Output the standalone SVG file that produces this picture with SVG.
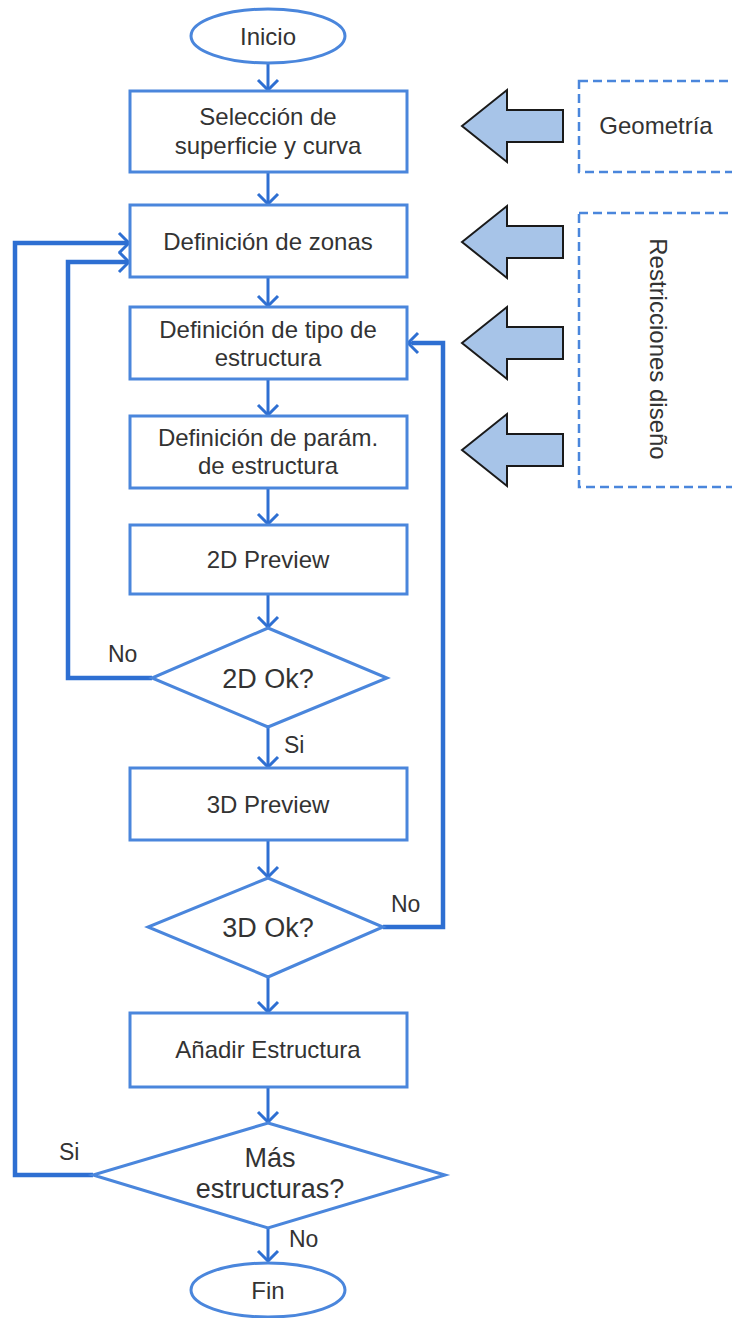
<svg xmlns="http://www.w3.org/2000/svg" width="732" height="1318" viewBox="0 0 732 1318">
<style>
.node{fill:#fff;stroke:#4a86dc;stroke-width:3}
.t{font-family:"Liberation Sans",Arial,sans-serif;font-size:24px;fill:#333;text-anchor:middle}
.td{font-family:"Liberation Sans",Arial,sans-serif;font-size:27px;fill:#333;text-anchor:middle}
.lbl{font-family:"Liberation Sans",Arial,sans-serif;font-size:23px;fill:#333}
.c{fill:none;stroke:#2e6fd2;stroke-width:3;marker-end:url(#ah)}
.cl{fill:none;stroke:#2e6fd2;stroke-width:4.5;stroke-linejoin:miter}
.dash{fill:none;stroke:#4a86dc;stroke-width:2.5;stroke-dasharray:9 5}
.blk{fill:#a7c4e8;stroke:#1a1a1a;stroke-width:2;stroke-linejoin:miter}
</style>
<defs>
<marker id="ah" viewBox="-12 -12 14 24" markerWidth="14" markerHeight="24" refX="0" refY="0" orient="auto" markerUnits="userSpaceOnUse">
<path d="M-10,-10 L0,0 L-10,10" fill="none" stroke="#2e6fd2" stroke-width="3"/>
</marker>
<path id="barrow" d="M0,0 L45,-36 L45,-16 L101,-16 L101,16 L45,16 L45,36 Z"/>
</defs>
<rect width="732" height="1318" fill="#fff"/>

<g id="connectors">
<line class="c" x1="268" y1="63" x2="268" y2="90"/>
<line class="c" x1="268" y1="172" x2="268" y2="204"/>
<line class="c" x1="268" y1="277" x2="268" y2="306"/>
<line class="c" x1="268" y1="379" x2="268" y2="415"/>
<line class="c" x1="268" y1="488" x2="268" y2="524"/>
<line class="c" x1="268" y1="594" x2="268" y2="627"/>
<line class="c" x1="268" y1="727" x2="268" y2="767"/>
<line class="c" x1="268" y1="840" x2="268" y2="877"/>
<line class="c" x1="268" y1="977" x2="268" y2="1012"/>
<line class="c" x1="268" y1="1087" x2="268" y2="1122"/>
<line class="c" x1="268" y1="1228" x2="268" y2="1261"/>
<polyline class="cl" points="152,678 68,678 68,262 126,262"/>
<line class="c" x1="120" y1="262" x2="129" y2="262"/>
<polyline class="cl" points="93,1175 15,1175 15,243 126,243"/>
<line class="c" x1="120" y1="243" x2="129" y2="243"/>
<polyline class="cl" points="383,927 443,927 443,343 412,343"/>
<line class="c" x1="418" y1="343" x2="408" y2="343"/>
<text class="lbl" x="108" y="662">No</text>
<text class="lbl" x="284" y="753">Si</text>
<text class="lbl" x="391" y="912">No</text>
<text class="lbl" x="59" y="1160">Si</text>
<text class="lbl" x="289" y="1247">No</text>
</g>

<g id="inicio"><ellipse class="node" cx="268" cy="36" rx="77" ry="27"/><text class="t" x="268" y="45">Inicio</text></g>
<g id="seleccion"><rect class="node" x="130" y="91" width="277" height="81"/><text class="t" x="268" y="125">Selección de</text><text class="t" x="268" y="154">superficie y curva</text></g>
<g id="zonas"><rect class="node" x="130" y="205" width="277" height="72"/><text class="t" x="268" y="250">Definición de zonas</text></g>
<g id="tipo"><rect class="node" x="130" y="307" width="277" height="72"/><text class="t" x="268" y="338">Definición de tipo de</text><text class="t" x="268" y="366">estructura</text></g>
<g id="param"><rect class="node" x="130" y="416" width="277" height="72"/><text class="t" x="268" y="446">Definición de parám.</text><text class="t" x="268" y="474">de estructura</text></g>
<g id="preview2d"><rect class="node" x="130" y="525" width="277" height="69"/><text class="t" x="268" y="568">2D Preview</text></g>
<g id="ok2d"><polygon class="node" points="268,628 387,678 268,727 152,678"/><text class="td" x="268" y="688">2D Ok?</text></g>
<g id="preview3d"><rect class="node" x="130" y="768" width="277" height="72"/><text class="t" x="268" y="813">3D Preview</text></g>
<g id="ok3d"><polygon class="node" points="268,878 383,927 268,977 148,927"/><text class="td" x="268" y="937">3D Ok?</text></g>
<g id="anadir"><rect class="node" x="130" y="1013" width="277" height="74"/><text class="t" x="268" y="1058">Añadir Estructura</text></g>
<g id="mas"><polygon class="node" points="268,1123 445,1175 268,1228 93,1175"/><text class="td" x="270" y="1167">Más</text><text class="td" x="270" y="1198">estructuras?</text></g>
<g id="fin"><ellipse class="node" cx="268" cy="1290" rx="77" ry="27"/><text class="t" x="268" y="1299">Fin</text></g>

<g id="geometria"><rect class="dash" x="579" y="81" width="165" height="91"/><text class="t" x="656" y="134">Geometría</text></g>
<g id="restricciones"><rect class="dash" x="579" y="213" width="165" height="274"/><text class="t" transform="translate(650,349) rotate(90)" x="0" y="0">Restricciones diseño</text></g>
<g id="flecha1"><use href="#barrow" class="blk" x="462" y="126"/></g>
<g id="flecha2"><use href="#barrow" class="blk" x="462" y="242"/></g>
<g id="flecha3"><use href="#barrow" class="blk" x="462" y="343"/></g>
<g id="flecha4"><use href="#barrow" class="blk" x="462" y="450"/></g>
</svg>
